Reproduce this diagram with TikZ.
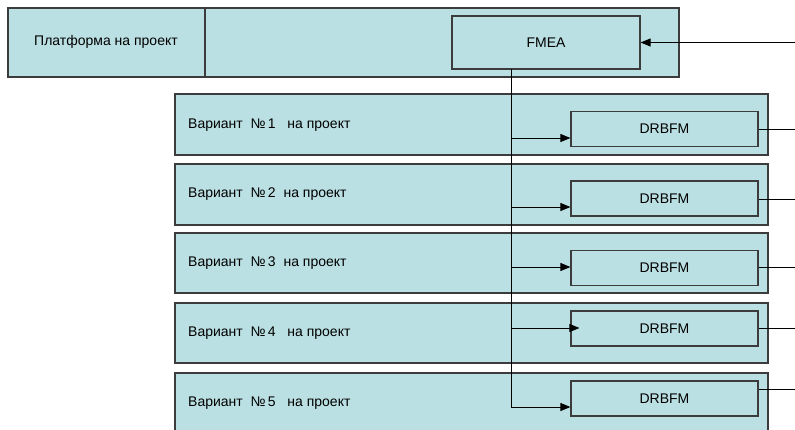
\documentclass[tikz,border=0pt]{standalone}
\usepackage{fontspec}
\setmainfont{Liberation Sans}
\usetikzlibrary{arrows.meta}
\definecolor{boxfill}{RGB}{187,224,227}
\definecolor{boxline}{RGB}{60,60,60}
\begin{document}
\begin{tikzpicture}[x=1pt,y=-1pt,
  panel/.style={draw=boxline,fill=boxfill,line width=1.3pt},
  inner/.style={draw=boxline,line width=1.2pt},
  txt/.style={font=\fontsize{14}{16}\selectfont},
  lbl/.style={txt,inner sep=0pt,anchor=west},
  clbl/.style={txt,inner sep=0pt},
  conn/.style={draw=black,line width=0.9pt},
  arr/.style={conn,-{Triangle[length=10pt,width=8pt]}}]
\useasboundingbox (0,0) rectangle (795,429);
\clip (0,0) rectangle (795,429);
% top platform
\draw[panel] (8,8) rectangle (679,77);
\draw[inner] (205,8) -- (205,77);
\node[clbl] (plat) at (106,42) {Платформа на проект};
\node[inner,txt,fill=boxfill,minimum width=188pt,minimum height=53pt,inner sep=0pt] (fmea) at (546,42.5) {FMEA};
% variant panels
\foreach \i/\t/\b in {1/94/155,2/164/225,3/233/293,4/303/363,5/373/440}{
  \draw[panel] (175,\t) rectangle (768,\b);
}
\node[lbl] (v1) at (188,125) {Вариант\ \ №\,1\ \ \ на проект};
\node[lbl] (v2) at (188,194) {Вариант\ \ №\,2\ \ на проект};
\node[lbl] (v3) at (188,263) {Вариант\ \ №\,3\ \ на проект};
\node[lbl] (v4) at (188,333) {Вариант\ \ №\,4\ \ \ на проект};
\node[lbl] (v5) at (188,403) {Вариант\ \ №\,5\ \ \ на проект};
% DRBFM boxes
\foreach \i/\c in {1/129,2/198.5,3/268,4/328.5,5/398.5}{
  \node[inner,txt,minimum width=187pt,minimum height=35pt,inner sep=0pt] (d\i) at (664.5,\c) {DRBFM};
}
% input arrow to FMEA
\coordinate (in) at (795,42.5);
\draw[arr] (in) -- (fmea.east);
% trunk
\coordinate (t0) at (511,69);
\coordinate (t1) at (511,138);
\coordinate (t2) at (511,207);
\coordinate (t3) at (511,267);
\coordinate (t4) at (511,328);
\coordinate (t5) at (511,407);
\draw[conn] (t0) -- (t5);
\draw[arr] (t1) -- (t1 -| d1.west);
\draw[arr] (t2) -- (t2 -| d2.west);
\draw[arr] (t3) -- (t3 -| d3.west);
\draw[arr] (t4) -- ([xshift=9pt]t4 -| d4.west);
\draw[arr] (t5) -- (t5 -| d5.west);
% outputs
\coordinate (o1) at (795,129);
\coordinate (o2) at (795,199);
\coordinate (o3) at (795,267);
\coordinate (o4) at (795,328);
\coordinate (o5) at (795,389);
\draw[conn] (o1 -| d1.east) -- (o1);
\draw[conn] (o2 -| d2.east) -- (o2);
\draw[conn] (o3 -| d3.east) -- (o3);
\draw[conn] (o4 -| d4.east) -- (o4);
\draw[conn] (o5 -| d5.east) -- (o5);
\end{tikzpicture}
\end{document}
